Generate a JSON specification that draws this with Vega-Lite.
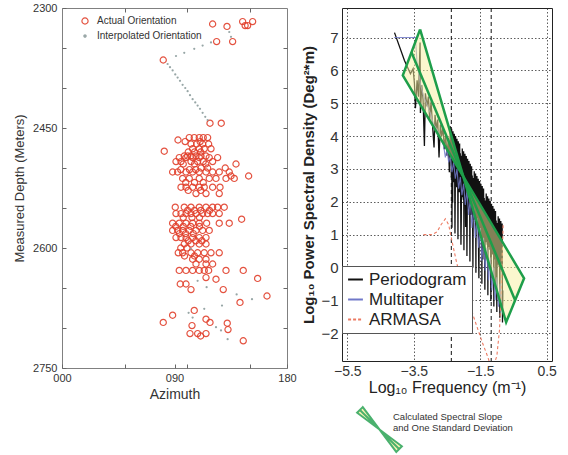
{
"$schema": "https://vega.github.io/schema/vega-lite/v6.json",
"padding": {"left": 13, "top": 1, "right": 2, "bottom": 2},
"background": "white",
"spacing": 55,
"bounds": "flush",
"config": {"font": "Liberation Sans", "view": {"stroke": null}},
"resolve": {"scale": {"color": "independent", "fill": "independent", "stroke": "independent", "size": "independent"}, "legend": {"color": "independent", "fill": "independent", "stroke": "independent", "size": "independent"}},
"datasets": {
"azi": [
{"a":120.5,"d":2320},{"a":132,"d":2323},{"a":144.5,"d":2317},{"a":146.5,"d":2322},{"a":148.5,"d":2322},{"a":152.5,"d":2317},{"a":123.7,"d":2342},{"a":136.5,"d":2342},{"a":81,"d":2365},{"a":118.4,"d":2444},{"a":127.4,"d":2444},
{"a":101.8,"d":2462},{"a":105.8,"d":2462},{"a":109.8,"d":2462},{"a":113,"d":2462},{"a":116.5,"d":2462},
{"a":92.8,"d":2465},{"a":98.5,"d":2467},{"a":110.5,"d":2467},
{"a":103.2,"d":2470},{"a":107.7,"d":2470},{"a":112.5,"d":2470},{"a":117.3,"d":2470},
{"a":104.5,"d":2476},{"a":109.8,"d":2476},{"a":113.8,"d":2476},{"a":119.2,"d":2476},
{"a":81.8,"d":2479},{"a":101,"d":2480},{"a":106,"d":2480},{"a":111,"d":2480},
{"a":97.8,"d":2485},{"a":100.5,"d":2485},{"a":103.2,"d":2485},{"a":107.2,"d":2485},{"a":111.2,"d":2485},{"a":115.2,"d":2485},
{"a":93.8,"d":2487},{"a":99.2,"d":2487},{"a":104.5,"d":2487},{"a":109.8,"d":2487},{"a":117.8,"d":2487},{"a":124.5,"d":2487},
{"a":91.2,"d":2492},{"a":95.2,"d":2492},{"a":103.2,"d":2492},{"a":108.5,"d":2492},{"a":113,"d":2492},{"a":120.5,"d":2492},
{"a":139.2,"d":2495},{"a":97,"d":2495},{"a":106,"d":2495},{"a":115,"d":2495},
{"a":111.2,"d":2500},{"a":116.5,"d":2500},{"a":130.6,"d":2500},
{"a":95,"d":2502},{"a":102,"d":2502},{"a":107,"d":2502},
{"a":88.5,"d":2505},{"a":92.5,"d":2505},{"a":99.2,"d":2505},{"a":104.5,"d":2505},{"a":109.8,"d":2505},{"a":115.2,"d":2505},{"a":120.5,"d":2505},{"a":125.8,"d":2505},{"a":133.8,"d":2505},
{"a":149.3,"d":2510},{"a":135.2,"d":2510},
{"a":96.5,"d":2513},{"a":101.8,"d":2513},{"a":109.8,"d":2513},{"a":117.8,"d":2513},{"a":123.2,"d":2513},{"a":131.2,"d":2513},{"a":137.8,"d":2513},
{"a":99,"d":2518},{"a":106,"d":2518},{"a":113,"d":2518},
{"a":95.2,"d":2524},{"a":99.2,"d":2524},{"a":104.5,"d":2524},{"a":109.8,"d":2524},{"a":113.8,"d":2524},{"a":120.5,"d":2524},{"a":126.4,"d":2524},
{"a":101,"d":2528},{"a":111,"d":2528},
{"a":107.2,"d":2532},{"a":115.2,"d":2532},{"a":125.8,"d":2532},
{"a":90.6,"d":2549},{"a":97.8,"d":2549},{"a":103.2,"d":2549},{"a":109.8,"d":2549},{"a":115.2,"d":2549},{"a":120.5,"d":2549},{"a":124.5,"d":2549},{"a":129.8,"d":2549},
{"a":100.5,"d":2553},{"a":106,"d":2553},{"a":111,"d":2553},{"a":118,"d":2553},
{"a":91.2,"d":2557},{"a":95.2,"d":2557},{"a":99.2,"d":2557},{"a":103.2,"d":2557},{"a":107.2,"d":2557},{"a":112.5,"d":2557},{"a":116.5,"d":2557},{"a":120.5,"d":2557},{"a":125.8,"d":2557},
{"a":97,"d":2562},{"a":104,"d":2562},{"a":110,"d":2562},{"a":143.7,"d":2564},
{"a":88.5,"d":2569},{"a":93.8,"d":2569},{"a":99.2,"d":2569},{"a":104.5,"d":2569},{"a":109.8,"d":2569},{"a":115.7,"d":2569},{"a":125.8,"d":2569},{"a":133.8,"d":2569},
{"a":91,"d":2573},{"a":97,"d":2573},{"a":103,"d":2573},{"a":110,"d":2573},
{"a":88.5,"d":2578},{"a":92.5,"d":2578},{"a":96.5,"d":2578},{"a":101.8,"d":2578},{"a":107.2,"d":2578},{"a":112.5,"d":2578},{"a":117.8,"d":2578},
{"a":94,"d":2582},{"a":99,"d":2582},{"a":105,"d":2582},
{"a":91.2,"d":2587},{"a":95.2,"d":2587},{"a":99.2,"d":2587},{"a":104.5,"d":2587},{"a":109.8,"d":2587},{"a":115.2,"d":2587},
{"a":101,"d":2591},{"a":107,"d":2591},{"a":112,"d":2591},
{"a":97.8,"d":2595},{"a":103.2,"d":2595},{"a":109.8,"d":2595},{"a":115.2,"d":2595},
{"a":95,"d":2600},{"a":100,"d":2600},
{"a":93,"d":2606},{"a":96.5,"d":2606},{"a":103.2,"d":2606},{"a":108.5,"d":2606},{"a":113.8,"d":2606},{"a":119.2,"d":2606},{"a":125.8,"d":2606},
{"a":98,"d":2610},{"a":106,"d":2610},
{"a":104.5,"d":2614},{"a":109.8,"d":2614},{"a":115.2,"d":2614},
{"a":107.2,"d":2620},{"a":115.2,"d":2620},{"a":120.5,"d":2620},
{"a":93.8,"d":2628},{"a":99.2,"d":2628},{"a":104.5,"d":2628},{"a":109.8,"d":2628},{"a":113.8,"d":2628},{"a":117.3,"d":2628},{"a":131.2,"d":2628},{"a":145,"d":2628},
{"a":115.2,"d":2637},{"a":123.2,"d":2639},{"a":156.5,"d":2638},
{"a":94.6,"d":2645},{"a":99.2,"d":2645},{"a":103.2,"d":2652},{"a":129,"d":2652},
{"a":164,"d":2660},{"a":142.4,"d":2668},{"a":105.8,"d":2678},{"a":88.5,"d":2684},{"a":81,"d":2693},{"a":115.2,"d":2689},{"a":118.4,"d":2693},{"a":132.2,"d":2694},{"a":104,"d":2697},{"a":132.8,"d":2702},{"a":102.4,"d":2707},{"a":108.5,"d":2707},{"a":115.2,"d":2707},{"a":110.9,"d":2710},{"a":145,"d":2716}
],
"ip": [
{"a":91.2,"d":2360},{"a":97.8,"d":2356},{"a":105.8,"d":2351},{"a":112.5,"d":2347},{"a":119.2,"d":2343},{"a":133.8,"d":2330},{"a":135.2,"d":2336},
{"a":84.5,"d":2370},{"a":86.4,"d":2374},{"a":88.5,"d":2378},{"a":90.6,"d":2383},{"a":92.5,"d":2387},{"a":94.4,"d":2391},{"a":96.5,"d":2396},{"a":98.6,"d":2400},{"a":100.5,"d":2404},{"a":102.4,"d":2409},{"a":104.5,"d":2414},{"a":106.6,"d":2418},{"a":108.5,"d":2422},{"a":110.4,"d":2426},{"a":112.5,"d":2431},{"a":114.6,"d":2436},{"a":116.5,"d":2440},
{"a":108.5,"d":2641},{"a":115.7,"d":2649},{"a":139.7,"d":2658},{"a":152,"d":2664},{"a":128,"d":2672},{"a":113.8,"d":2676},{"a":101.3,"d":2681},{"a":104.5,"d":2687},{"a":123.2,"d":2699},{"a":127.2,"d":2703},{"a":132.5,"d":2714},{"a":103.2,"d":2601}
],
"pg": [
{"x":-4.08,"y":7.15},{"x":-3.78,"y":6.3},{"x":-3.6,"y":5.9},{"x":-3.52,"y":6.05},{"x":-3.48,"y":5.6},{"x":-3.45,"y":4.85},{"x":-3.4,"y":5.7},{"x":-3.36,"y":5.2},{"x":-3.31,"y":6.85},{"x":-3.3,"y":4.7},{"x":-3.26,"y":5.55},{"x":-3.22,"y":5.1},{"x":-3.18,"y":3.7},{"x":-3.15,"y":5.3},{"x":-3.1,"y":4.9},{"x":-3.06,"y":5.2},{"x":-3.02,"y":4.5},{"x":-2.98,"y":5.05},{"x":-2.94,"y":4.4},{"x":-2.89,"y":3.65},{"x":-2.86,"y":4.65},{"x":-2.82,"y":4.2},{"x":-2.78,"y":4.5},{"x":-2.74,"y":3.35},{"x":-2.7,"y":4.35},{"x":-2.66,"y":4.0},{"x":-2.62,"y":4.25},{"x":-2.58,"y":3.6},{"x":-2.54,"y":4.05},{"x":-2.5,"y":3.4},{"x":-2.46,"y":3.95},{"x":-2.43,"y":2.9},
{"x":-2.40,"y":4.30},{"x":-2.39,"y":3.28},{"x":-2.38,"y":4.01},{"x":-2.37,"y":2.74},{"x":-2.36,"y":4.22},{"x":-2.35,"y":1.21},{"x":-2.34,"y":3.94},{"x":-2.33,"y":1.97},{"x":-2.32,"y":4.15},{"x":-2.31,"y":3.13},
{"x":-2.30,"y":3.86},{"x":-2.29,"y":2.59},{"x":-2.28,"y":4.07},{"x":-2.27,"y":3.05},{"x":-2.26,"y":1.03},{"x":-2.25,"y":2.52},{"x":-2.24,"y":4.00},{"x":-2.23,"y":2.98},{"x":-2.22,"y":3.71},{"x":-2.21,"y":2.44},
{"x":-2.20,"y":3.92},{"x":-2.19,"y":2.90},{"x":-2.18,"y":3.63},{"x":-2.17,"y":0.86},{"x":-2.16,"y":3.84},{"x":-2.15,"y":2.83},{"x":-2.14,"y":3.56},{"x":-2.13,"y":2.29},{"x":-2.12,"y":3.77},{"x":-2.11,"y":2.75},
{"x":-2.10,"y":3.48},{"x":-2.09,"y":2.21},{"x":-2.08,"y":0.69},{"x":-2.07,"y":1.47},{"x":-2.06,"y":3.40},{"x":-2.05,"y":2.14},{"x":-2.04,"y":3.62},{"x":-2.03,"y":2.60},{"x":-2.02,"y":3.33},{"x":-2.01,"y":2.06},
{"x":-2.00,"y":3.54},{"x":-1.99,"y":0.52},{"x":-1.98,"y":3.25},{"x":-1.97,"y":1.98},{"x":-1.96,"y":3.46},{"x":-1.95,"y":2.45},{"x":-1.94,"y":1.23},{"x":-1.93,"y":1.91},{"x":-1.92,"y":3.39},{"x":-1.91,"y":2.37},
{"x":-1.90,"y":0.35},{"x":-1.89,"y":1.83},{"x":-1.88,"y":3.31},{"x":-1.87,"y":2.29},{"x":-1.86,"y":3.02},{"x":-1.85,"y":1.76},{"x":-1.84,"y":3.24},{"x":-1.83,"y":2.22},{"x":-1.82,"y":2.95},{"x":-1.81,"y":0.18},
{"x":-1.80,"y":3.16},{"x":-1.79,"y":2.14},{"x":-1.78,"y":2.87},{"x":-1.77,"y":1.60},{"x":-1.76,"y":3.08},{"x":-1.75,"y":2.07},{"x":-1.74,"y":2.80},{"x":-1.73,"y":1.53},{"x":-1.72,"y":0.01},{"x":-1.71,"y":1.99},
{"x":-1.70,"y":2.72},{"x":-1.69,"y":1.45},{"x":-1.68,"y":2.93},{"x":-1.67,"y":1.91},{"x":-1.66,"y":2.64},{"x":-1.65,"y":1.38},{"x":-1.64,"y":2.86},{"x":-1.63,"y":-0.16},{"x":-1.62,"y":2.57},{"x":-1.61,"y":1.30},
{"x":-1.60,"y":2.78},{"x":-1.59,"y":1.76},{"x":-1.58,"y":2.49},{"x":-1.57,"y":1.22},{"x":-1.56,"y":2.70},{"x":-1.55,"y":0.49},{"x":-1.54,"y":-0.33},{"x":-1.53,"y":1.15},{"x":-1.52,"y":2.63},{"x":-1.51,"y":1.61},
{"x":-1.50,"y":2.34},{"x":-1.49,"y":1.07},{"x":-1.48,"y":2.55},{"x":-1.47,"y":1.53},{"x":-1.46,"y":2.26},{"x":-1.45,"y":-0.50},{"x":-1.44,"y":2.48},{"x":-1.43,"y":1.46},{"x":-1.42,"y":0.24},{"x":-1.41,"y":0.92},
{"x":-1.40,"y":2.40},{"x":-1.39,"y":1.38},{"x":-1.38,"y":2.11},{"x":-1.37,"y":0.84},{"x":-1.36,"y":-0.68},{"x":-1.35,"y":1.31},{"x":-1.34,"y":2.04},{"x":-1.33,"y":0.77},{"x":-1.32,"y":2.25},{"x":-1.31,"y":1.23},
{"x":-1.30,"y":1.96},{"x":-1.29,"y":0.69},{"x":-1.28,"y":2.17},{"x":-1.27,"y":-0.85},{"x":-1.26,"y":1.88},{"x":-1.25,"y":0.62},{"x":-1.24,"y":2.10},{"x":-1.23,"y":1.08},{"x":-1.22,"y":1.81},{"x":-1.21,"y":0.54},
{"x":-1.20,"y":2.02},{"x":-1.19,"y":1.00},{"x":-1.18,"y":-1.02},{"x":-1.17,"y":0.46},{"x":-1.16,"y":1.94},{"x":-1.15,"y":0.93},{"x":-1.14,"y":1.66},{"x":-1.13,"y":0.39},{"x":-1.12,"y":1.87},{"x":-1.11,"y":0.85},
{"x":-1.10,"y":1.58},{"x":-1.09,"y":-1.19},{"x":-1.08,"y":1.79},{"x":-1.07,"y":0.77},{"x":-1.06,"y":1.50},{"x":-1.05,"y":0.24},{"x":-1.04,"y":1.72},{"x":-1.03,"y":-0.50},{"x":-1.02,"y":1.43},{"x":-1.01,"y":0.16},
{"x":-1.00,"y":-1.36},{"x":-0.99,"y":0.62},{"x":-0.98,"y":1.35},{"x":-0.97,"y":0.08},{"x":-0.96,"y":1.56},{"x":-0.95,"y":0.55},{"x":-0.94,"y":1.28},{"x":-0.93,"y":0.01},{"x":-0.92,"y":1.49},{"x":-0.91,"y":-1.53},
{"x":-0.90,"y":1.20},{"x":-0.89,"y":-0.07},{"x":-0.88,"y":1.41},{"x":-0.87,"y":0.39},{"x":-0.86,"y":1.12},{"x":-0.85,"y":-0.14},{"x":-0.84,"y":1.34},{"x":-0.83,"y":-1.68},{"x":-0.82,"y":-0.70}
],
"mt": [
{"x":-4.09,"y":7.0},{"x":-3.45,"y":7.0},{"x":-3.4,"y":6.2},{"x":-3.3,"y":5.6},{"x":-3.2,"y":5.2},{"x":-3.1,"y":4.95},{"x":-3.0,"y":4.7},{"x":-2.9,"y":4.35},{"x":-2.8,"y":4.2},{"x":-2.7,"y":3.95},{"x":-2.6,"y":3.7},{"x":-2.55,"y":3.35},{"x":-2.5,"y":3.6},{"x":-2.45,"y":3.2},{"x":-2.4,"y":3.4},{"x":-2.35,"y":2.9},{"x":-2.3,"y":3.2},{"x":-2.25,"y":2.7},{"x":-2.2,"y":3.0},{"x":-2.15,"y":2.4},{"x":-2.1,"y":2.75},{"x":-2.05,"y":2.2},{"x":-2.0,"y":2.55},{"x":-1.95,"y":1.9},{"x":-1.9,"y":2.35},{"x":-1.85,"y":1.6},{"x":-1.8,"y":2.1},{"x":-1.75,"y":1.2},{"x":-1.7,"y":1.8},{"x":-1.65,"y":0.9},{"x":-1.6,"y":1.5},{"x":-1.55,"y":0.6},{"x":-1.5,"y":1.2},{"x":-1.45,"y":0.2},{"x":-1.4,"y":0.9},{"x":-1.35,"y":-0.1},{"x":-1.3,"y":0.6},{"x":-1.25,"y":-0.4},{"x":-1.2,"y":0.3},{"x":-1.15,"y":-0.7},{"x":-1.1,"y":0.0},{"x":-1.05,"y":-1.0},{"x":-1.0,"y":-0.3},{"x":-0.95,"y":-1.2},{"x":-0.9,"y":-0.5},{"x":-0.85,"y":-1.3}
],
"ar": [
{"x":-3.21,"y":1.0},{"x":-2.95,"y":1.0},{"x":-2.8,"y":1.08},{"x":-2.68,"y":1.3},{"x":-2.55,"y":1.48},{"x":-2.45,"y":1.3},{"x":-2.35,"y":0.8},{"x":-2.2,"y":0.1},{"x":-2.0,"y":-0.6},{"x":-1.8,"y":-1.2},{"x":-1.6,"y":-1.8},{"x":-1.45,"y":-2.25},{"x":-1.3,"y":-2.65},{"x":-1.2,"y":-2.95},{"x":-1.1,"y":-3.0},{"x":-1.0,"y":-2.7},{"x":-0.92,"y":-1.9},{"x":-0.87,"y":-0.8},{"x":-0.84,"y":0.3},{"x":-0.81,"y":1.3}
],
"bt": [
{"x":-3.83,"y":5.85,"y2":5.85,"t":"a"},{"x":-3.31,"y":7.25,"y2":4.97,"t":"a"},{"x":-2.006,"y":2.76,"y2":2.76,"t":"a"},
{"x":-2.006,"y":2.76,"y2":2.76,"t":"b"},{"x":-0.72,"y":0.584,"y2":-1.67,"t":"b"},{"x":-0.18,"y":-0.33,"y2":-0.33,"t":"b"}
],
"ol": [
{"x":-3.31,"y":7.25,"o":1,"g":"o"},{"x":-3.83,"y":5.85,"o":2,"g":"o"},{"x":-0.18,"y":-0.33,"o":3,"g":"o"},{"x":-0.72,"y":-1.67,"o":4,"g":"o"},{"x":-3.31,"y":7.25,"o":5,"g":"o"},
{"x":-3.57,"y":6.55,"o":1,"g":"m"},{"x":-0.45,"y":-1.0,"o":2,"g":"m"}
]
},
"hconcat": [
{
"width": 225, "height": 360,
"view": {"stroke": "#808080", "strokeWidth": 1},
"layer": [
{
"data": {"name": "azi"},
"mark": {"type": "point", "shape": "circle", "strokeWidth": 1.2, "opacity": 0.9},
"encoding": {
"x": {"field": "a", "type": "quantitative", "scale": {"domain": [0, 180], "nice": false, "zero": false},
 "axis": {"orient": "bottom", "values": [0, 50, 90, 100, 150, 180], "format": "03d", "labelExpr": "datum.value % 90 == 0 ? datum.label : ''", "labelOverlap": false, "labelFlush": false, "domain": false, "grid": false, "ticks": true, "tickSize": -4, "tickColor": "#666", "encode": {"ticks": {"update": {"strokeOpacity": {"signal": "datum.value % 90 == 0 ? 0 : 1"}}}}, "labelPadding": 8, "labelFontSize": 11, "labelColor": "#333", "title": "Azimuth", "titleFontSize": 14, "titleFontWeight": "normal", "titleColor": "#333", "titlePadding": 4}},
"y": {"field": "d", "type": "quantitative", "scale": {"domain": [2300, 2750], "reverse": true, "nice": false, "zero": false},
 "axis": {"orient": "left", "values": [2300, 2350, 2400, 2450, 2500, 2550, 2600, 2650, 2700, 2750], "format": "d", "labelExpr": "(datum.value - 2300) % 150 == 0 ? datum.label : ''", "labelOverlap": false, "labelFlush": false, "domain": false, "grid": false, "ticks": true, "tickSize": -4, "tickColor": "#666", "labelPadding": 9, "labelFontSize": 11, "labelColor": "#333", "title": "Measured Depth (Meters)", "titleFontSize": 13, "titleFontWeight": "normal", "titleColor": "#333", "titlePadding": 6}},
"stroke": {"datum": "A", "type": "nominal", "scale": {"domain": ["A", "I"], "range": ["#e2402c", "#8c9c9c"]},
 "legend": {"title": null, "orient": "none", "legendX": 18, "legendY": 8, "labelFontSize": 10, "labelColor": "#333", "symbolType": "circle", "symbolStrokeWidth": 1.2, "rowPadding": 4, "labelOffset": 7, "labelExpr": "datum.value == 'A' ? 'Actual Orientation' : 'Interpolated Orientation'"}},
"fill": {"datum": "A", "type": "nominal", "scale": {"domain": ["A", "I"], "range": ["transparent", "#8c9c9c"]},
 "legend": {"title": null, "orient": "none", "legendX": 18, "legendY": 8, "labelFontSize": 10, "labelColor": "#333", "symbolType": "circle", "symbolStrokeWidth": 1.2, "rowPadding": 4, "labelOffset": 7, "labelExpr": "datum.value == 'A' ? 'Actual Orientation' : 'Interpolated Orientation'"}},
"size": {"datum": "A", "type": "nominal", "scale": {"domain": ["A", "I"], "range": [38, 5]},
 "legend": {"title": null, "orient": "none", "legendX": 18, "legendY": 8, "labelFontSize": 10, "labelColor": "#333", "symbolType": "circle", "symbolStrokeWidth": 1.2, "rowPadding": 4, "labelOffset": 7, "labelExpr": "datum.value == 'A' ? 'Actual Orientation' : 'Interpolated Orientation'"}}
}
},
{
"data": {"name": "ip"},
"mark": {"type": "point", "shape": "circle", "strokeWidth": 0, "opacity": 0.9},
"encoding": {
"x": {"field": "a", "type": "quantitative", "scale": {"domain": [0, 180], "nice": false, "zero": false},
 "axis": {"orient": "top", "values": [50, 100, 150], "labels": false, "domain": false, "grid": false, "ticks": true, "tickSize": -4, "tickColor": "#666", "title": null}},
"y": {"field": "d", "type": "quantitative", "scale": {"domain": [2300, 2750], "reverse": true, "nice": false, "zero": false},
 "axis": {"orient": "right", "values": [2350, 2400, 2450, 2500, 2550, 2600, 2650, 2700], "labels": false, "domain": false, "grid": false, "ticks": true, "tickSize": -4, "tickColor": "#666", "title": null}},
"stroke": {"datum": "I", "type": "nominal"},
"fill": {"datum": "I", "type": "nominal"},
"size": {"datum": "I", "type": "nominal"}
}
}
],
"resolve": {"axis": {"x": "independent", "y": "independent"}}
},
{
"width": 210, "height": 353,
"view": {"stroke": "#222", "strokeWidth": 1},
"layer": [
{
"data": {"values": [{"x": -2.37}, {"x": -1.17}]},
"mark": {"type": "rule", "strokeDash": [4, 3], "color": "#111", "strokeWidth": 1},
"encoding": {
"x": {"field": "x", "type": "quantitative", "scale": {"domain": [-5.66, 0.66], "nice": false, "zero": false},
 "axis": {"values": [-5.5, -4.5, -3.5, -2.5, -1.5, -0.5, 0.5], "format": ".1f", "labelExpr": "indexof([-5.5, -3.5, -1.5, 0.5], datum.value) >= 0 ? datum.label : ''", "grid": true, "gridDash": [1.5, 2], "gridColor": "#333", "gridWidth": 0.8, "domain": false, "ticks": false, "labelFontSize": 14, "labelColor": "#333", "labelPadding": 3, "labelOverlap": false, "labelFlush": false, "title": "Log₁₀ Frequency (m⁻¹)", "titleFontSize": 16, "titleFontWeight": "normal", "titleColor": "#222", "titlePadding": 1}}
}
},
{
"data": {"name": "pg"},
"mark": {"type": "line", "strokeWidth": 1.3, "clip": true},
"encoding": {
"x": {"field": "x", "type": "quantitative", "scale": {"domain": [-5.66, 0.66], "nice": false, "zero": false}},
"y": {"field": "y", "type": "quantitative", "scale": {"domain": [-2.85, 7.9], "nice": false, "zero": false},
 "axis": {"values": [-2, -1, 0, 1, 2, 3, 4, 5, 6, 7], "grid": true, "gridDash": [1.5, 2], "gridColor": "#333", "gridWidth": 0.8, "domain": false, "ticks": false, "labelFontSize": 15, "labelColor": "#333", "labelPadding": 4, "labelOverlap": false, "labelFlush": false, "title": "Log₁₀ Power Spectral Density (Deg²*m)", "titleFontSize": 15, "titleFontWeight": "bold", "titleColor": "#222", "titlePadding": 4}},
"color": {"datum": "Periodogram", "type": "nominal", "scale": {"domain": ["Periodogram", "Multitaper", "ARMASA"], "range": ["#111111", "#7078c8", "#ec7a62"]},
 "legend": {"title": null, "orient": "none", "legendX": 0, "legendY": 258, "fillColor": "white", "strokeColor": "#555", "padding": 5, "labelFontSize": 17, "labelColor": "#222", "symbolType": "stroke", "symbolSize": 220, "symbolStrokeWidth": 1.8, "rowPadding": 2, "labelOffset": 5, "labelLimit": 200, "encode": {"symbols": {"update": {"strokeDash": {"signal": "datum.value === 'ARMASA' ? [3, 2] : [1, 0]"}}}}}}
}
},
{
"data": {"name": "mt"},
"mark": {"type": "line", "strokeWidth": 1.1, "opacity": 0.85, "clip": true},
"encoding": {
"x": {"field": "x", "type": "quantitative", "scale": {"domain": [-5.66, 0.66], "nice": false, "zero": false}},
"y": {"field": "y", "type": "quantitative", "scale": {"domain": [-2.85, 7.9], "nice": false, "zero": false},
 "axis": {"values": [-2, -1, 0, 1, 2, 3, 4, 5, 6, 7], "grid": true, "gridDash": [1.5, 2], "gridColor": "#333", "gridWidth": 0.8, "domain": false, "ticks": false, "labelFontSize": 15, "labelColor": "#333", "labelPadding": 4, "labelOverlap": false, "labelFlush": false, "title": "Log₁₀ Power Spectral Density (Deg²*m)", "titleFontSize": 15, "titleFontWeight": "bold", "titleColor": "#222", "titlePadding": 4}},
"color": {"datum": "Multitaper", "type": "nominal"}
}
},
{
"data": {"name": "ar"},
"mark": {"type": "line", "strokeWidth": 1.1, "strokeDash": [3, 2.5], "clip": true},
"encoding": {
"x": {"field": "x", "type": "quantitative", "scale": {"domain": [-5.66, 0.66], "nice": false, "zero": false}},
"y": {"field": "y", "type": "quantitative", "scale": {"domain": [-2.85, 7.9], "nice": false, "zero": false},
 "axis": {"values": [-2, -1, 0, 1, 2, 3, 4, 5, 6, 7], "grid": true, "gridDash": [1.5, 2], "gridColor": "#333", "gridWidth": 0.8, "domain": false, "ticks": false, "labelFontSize": 15, "labelColor": "#333", "labelPadding": 4, "labelOverlap": false, "labelFlush": false, "title": "Log₁₀ Power Spectral Density (Deg²*m)", "titleFontSize": 15, "titleFontWeight": "bold", "titleColor": "#222", "titlePadding": 4}},
"color": {"datum": "ARMASA", "type": "nominal"}
}
},
{
"data": {"name": "bt"},
"mark": {"type": "area", "orient": "vertical", "opacity": 0.5},
"encoding": {
"x": {"field": "x", "type": "quantitative", "scale": {"domain": [-5.66, 0.66], "nice": false, "zero": false}},
"y": {"field": "y", "type": "quantitative", "scale": {"domain": [-2.85, 7.9], "nice": false, "zero": false},
 "axis": {"values": [-2, -1, 0, 1, 2, 3, 4, 5, 6, 7], "grid": true, "gridDash": [1.5, 2], "gridColor": "#333", "gridWidth": 0.8, "domain": false, "ticks": false, "labelFontSize": 15, "labelColor": "#333", "labelPadding": 4, "labelOverlap": false, "labelFlush": false, "title": "Log₁₀ Power Spectral Density (Deg²*m)", "titleFontSize": 15, "titleFontWeight": "bold", "titleColor": "#222", "titlePadding": 4}},
"y2": {"field": "y2"},
"detail": {"field": "t"},
"fill": {"datum": "band", "type": "nominal", "scale": {"domain": ["band"], "range": ["#f8ef9e"]},
 "legend": {"title": null, "orient": "none", "legendX": 14, "legendY": 398, "symbolType": "M -0.75 -1 L -1 -0.75 L 1 0.75 L 0.75 1 Z M -0.875 -0.875 L 0.875 0.875", "symbolSize": 2000, "symbolStrokeColor": "#1e9e4a", "symbolStrokeWidth": 2, "symbolOpacity": 0.8, "labelFontSize": 9.5, "labelColor": "#333", "labelExpr": "['Calculated Spectral Slope', ' and One Standard Deviation']", "labelLimit": 300, "labelOffset": -10, "encode": {"labels": {"update": {"dy": {"value": -13}, "lineHeight": {"value": 11}}}}}}
}
},
{
"data": {"name": "ol"},
"mark": {"type": "line", "color": "#1e9e4a", "strokeWidth": 2.5, "strokeJoin": "miter"},
"encoding": {
"x": {"field": "x", "type": "quantitative", "scale": {"domain": [-5.66, 0.66], "nice": false, "zero": false}},
"y": {"field": "y", "type": "quantitative", "scale": {"domain": [-2.85, 7.9], "nice": false, "zero": false},
 "axis": {"values": [-2, -1, 0, 1, 2, 3, 4, 5, 6, 7], "grid": true, "gridDash": [1.5, 2], "gridColor": "#333", "gridWidth": 0.8, "domain": false, "ticks": false, "labelFontSize": 15, "labelColor": "#333", "labelPadding": 4, "labelOverlap": false, "labelFlush": false, "title": "Log₁₀ Power Spectral Density (Deg²*m)", "titleFontSize": 15, "titleFontWeight": "bold", "titleColor": "#222", "titlePadding": 4}},
"order": {"field": "o"},
"detail": {"field": "g"}
}
}
]
}
]
}
